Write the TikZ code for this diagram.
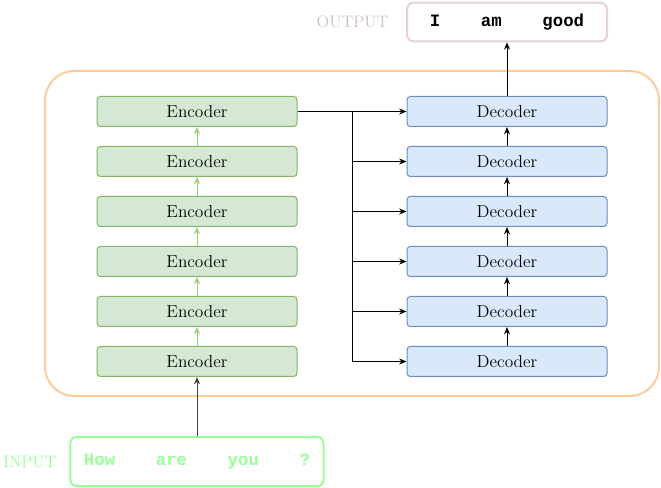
\documentclass[tikz,border=0pt]{standalone}
\usepackage{fontspec}
\setmonofont{Liberation Mono}
\usepackage{tikz}
\usetikzlibrary{arrows.meta,positioning}
\definecolor{encfill}{HTML}{D5E8D4}
\definecolor{encline}{HTML}{82B366}
\definecolor{encarrow}{HTML}{97D077}
\definecolor{decfill}{HTML}{DAE8FC}
\definecolor{decline}{HTML}{6C8EBF}
\definecolor{frameorange}{HTML}{FFCC99}
\definecolor{outpink}{HTML}{E6D0DE}
\definecolor{ingreen}{HTML}{99FF99}

\begin{document}
\begin{tikzpicture}[x=0.75pt,y=-0.75pt,node distance=14.25pt,>={Stealth[length=5.5pt,width=4.5pt]},
  encbox/.style={draw=encline,fill=encfill,rounded corners=2.5pt,line width=0.75pt,
    minimum width=150pt,minimum height=22.5pt,inner sep=0pt,font=\fontsize{13}{15}\selectfont},
  decbox/.style={draw=decline,fill=decfill,rounded corners=2.5pt,line width=0.75pt,
    minimum width=150pt,minimum height=22.5pt,inner sep=0pt,font=\fontsize{13}{15}\selectfont},
  wordbox/.style={rounded corners=5pt,line width=1.5pt,fill=white,inner sep=0pt,
    font=\fontsize{13}{15}\selectfont\ttfamily\bfseries},
  tag/.style={inner sep=0pt,font=\fontsize{12.5}{14}\selectfont}]

  \useasboundingbox (0,0) rectangle (661,488);

  % orange frame round both stacks
  \draw[frameorange,line width=1.5pt,rounded corners=22pt] (45,71) rectangle (659,396);

  % encoder stack, bottom to top
  \node[encbox] (enc1) at (197,361.5) {Encoder};
  \node[encbox,above=of enc1] (enc2) {Encoder};
  \node[encbox,above=of enc2] (enc3) {Encoder};
  \node[encbox,above=of enc3] (enc4) {Encoder};
  \node[encbox,above=of enc4] (enc5) {Encoder};
  \node[encbox,above=of enc5] (enc6) {Encoder};

  % decoder stack, bottom to top
  \node[decbox] (dec1) at (507,361.5) {Decoder};
  \node[decbox,above=of dec1] (dec2) {Decoder};
  \node[decbox,above=of dec2] (dec3) {Decoder};
  \node[decbox,above=of dec3] (dec4) {Decoder};
  \node[decbox,above=of dec4] (dec5) {Decoder};
  \node[decbox,above=of dec5] (dec6) {Decoder};

  % input and output sentences
  \node[wordbox,draw=outpink,minimum width=150pt,minimum height=29pt] (out) at (507,22)
    {I\hspace{30.5pt}am\hspace{30.5pt}good};
  \node[wordbox,draw=ingreen,text=ingreen,minimum width=190pt,minimum height=37pt] (in) at (197,461.5)
    {How\hspace{30.5pt}are\hspace{30.5pt}you\hspace{30.5pt}?};
  \node[tag,text=outpink!90!black,left=13pt of out] (outlbl) {OUTPUT};
  \node[tag,text=ingreen,left=9.5pt of in] (inlbl) {INPUT};

  \coordinate (bus) at (352,0);

  \draw[->,encarrow,line width=0.75pt] (enc1) -- (enc2);
  \draw[->,encarrow,line width=0.75pt] (enc2) -- (enc3);
  \draw[->,encarrow,line width=0.75pt] (enc3) -- (enc4);
  \draw[->,encarrow,line width=0.75pt] (enc4) -- (enc5);
  \draw[->,encarrow,line width=0.75pt] (enc5) -- (enc6);

  \draw[->,line width=0.75pt] (dec1) -- (dec2);
  \draw[->,line width=0.75pt] (dec2) -- (dec3);
  \draw[->,line width=0.75pt] (dec3) -- (dec4);
  \draw[->,line width=0.75pt] (dec4) -- (dec5);
  \draw[->,line width=0.75pt] (dec5) -- (dec6);
  \draw[->,line width=0.75pt] (dec6) -- (out);
  \draw[->,black!75,line width=0.75pt] (in) -- (enc1);

  % encoder output fans out to every decoder
  \draw[->,line width=0.75pt] (enc6.east) -- (dec6.west);
  \draw[line width=0.75pt] (enc6.east -| bus) -- (dec1.west -| bus);
  \draw[->,line width=0.75pt] (dec5.west -| bus) -- (dec5.west);
  \draw[->,line width=0.75pt] (dec4.west -| bus) -- (dec4.west);
  \draw[->,line width=0.75pt] (dec3.west -| bus) -- (dec3.west);
  \draw[->,line width=0.75pt] (dec2.west -| bus) -- (dec2.west);
  \draw[->,line width=0.75pt] (dec1.west -| bus) -- (dec1.west);

\end{tikzpicture}
\end{document}
